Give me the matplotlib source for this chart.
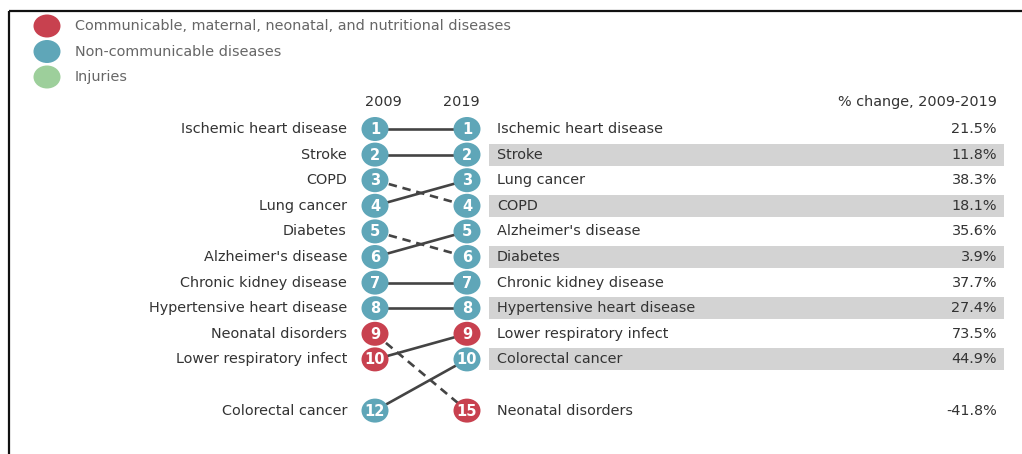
import matplotlib.pyplot as plt
from matplotlib.patches import Ellipse, Rectangle

plt.rcParams['font.family'] = ['DejaVu Sans']

# Causes ranked in 2009 (left) and 2019 (right)
left_causes = ['Ischemic heart disease', 'Stroke', 'COPD', 'Lung cancer', 'Diabetes',
               "Alzheimer's disease", 'Chronic kidney disease', 'Hypertensive heart disease',
               'Neonatal disorders', 'Lower respiratory infect', 'Colorectal cancer']
left_ranks = [1, 2, 3, 4, 5, 6, 7, 8, 9, 10, 12]
left_groups = ['ncd', 'ncd', 'ncd', 'ncd', 'ncd', 'ncd', 'ncd', 'ncd', 'cmnn', 'cmnn', 'ncd']

right_causes = ['Ischemic heart disease', 'Stroke', 'Lung cancer', 'COPD', "Alzheimer's disease",
                'Diabetes', 'Chronic kidney disease', 'Hypertensive heart disease',
                'Lower respiratory infect', 'Colorectal cancer', 'Neonatal disorders']
right_ranks = [1, 2, 3, 4, 5, 6, 7, 8, 9, 10, 15]
right_groups = ['ncd', 'ncd', 'ncd', 'ncd', 'ncd', 'ncd', 'ncd', 'ncd', 'cmnn', 'ncd', 'cmnn']
pct_change = ['21.5%', '11.8%', '38.3%', '18.1%', '35.6%', '3.9%', '37.7%', '27.4%',
              '73.5%', '44.9%', '-41.8%']

legend_labels = ['Communicable, maternal, neonatal, and nutritional diseases',
                 'Non-communicable diseases', 'Injuries']
legend_groups = ['cmnn', 'ncd', 'inj']

colors = {'cmnn': '#c8414f', 'ncd': '#5fa6b8', 'inj': '#9dcf9b'}
text_color = '#333333'
fs = 10.4


def row_y(rank):
    # ranks beyond 10 are drawn in a single row after a gap
    row = rank - 1 if rank <= 10 else 11
    return 129 + row * 25.6


fig = plt.figure(figsize=(10.22, 4.54), dpi=100)
ax = fig.add_axes([0, 0, 1, 1])
ax.set_xlim(0, 1022)
ax.set_ylim(454, 0)
ax.axis('off')

# frame lines (top and left only)
ax.plot([8.5, 1022], [10.5, 10.5], color='#111111', lw=1.6, solid_capstyle='butt')
ax.plot([8.5, 8.5], [10.5, 454], color='#111111', lw=1.6, solid_capstyle='butt')

# legend
for i, (lab, g) in enumerate(zip(legend_labels, legend_groups)):
    y = 26 + i * 25.5
    ax.add_patch(Ellipse((47, y), 27, 23, color=colors[g], lw=0))
    ax.text(75, y, lab, ha='left', va='center', fontsize=fs, color='#666666')

x_left, x_right = 375, 467

# headers
ax.text(x_left + 8, 102, '2009', ha='center', va='center', fontsize=fs, color=text_color)
ax.text(x_right - 6, 102, '2019', ha='center', va='center', fontsize=fs, color=text_color)
ax.text(997, 102, '% change, 2009-2019', ha='right', va='center', fontsize=fs, color=text_color)

# grey bands on alternate rows of the right-hand table
for i, r in enumerate(right_ranks):
    if i % 2 == 1:
        y = row_y(r)
        ax.add_patch(Rectangle((489, y - 11), 515, 22, color='#d3d3d3', lw=0, zorder=0))

# connecting lines: solid if rank held or improved, dashed if it dropped
for cause, lr in zip(left_causes, left_ranks):
    rr = right_ranks[right_causes.index(cause)]
    ls = '-' if rr <= lr else (0, (3.2, 2.2))
    ax.plot([x_left, x_right], [row_y(lr), row_y(rr)], color='#444444', lw=1.9,
            linestyle=ls, zorder=1)

# left column
for cause, r, g in zip(left_causes, left_ranks, left_groups):
    y = row_y(r)
    ax.add_patch(Ellipse((x_left, y), 27, 24, color=colors[g], lw=0, zorder=2))
    ax.text(x_left, y + 0.5, str(r), ha='center', va='center', fontsize=10.5,
            color='white', fontweight='semibold', zorder=3)
    ax.text(347, y, cause, ha='right', va='center', fontsize=fs, color=text_color)

# right column
for cause, r, g, p in zip(right_causes, right_ranks, right_groups, pct_change):
    y = row_y(r)
    ax.add_patch(Ellipse((x_right, y), 27, 24, color=colors[g], lw=0, zorder=2))
    ax.text(x_right, y + 0.5, str(r), ha='center', va='center', fontsize=10.5,
            color='white', fontweight='semibold', zorder=3)
    ax.text(497, y, cause, ha='left', va='center', fontsize=fs, color=text_color)
    ax.text(997, y, p, ha='right', va='center', fontsize=fs, color=text_color)

fig.savefig('out.png', dpi=100)
